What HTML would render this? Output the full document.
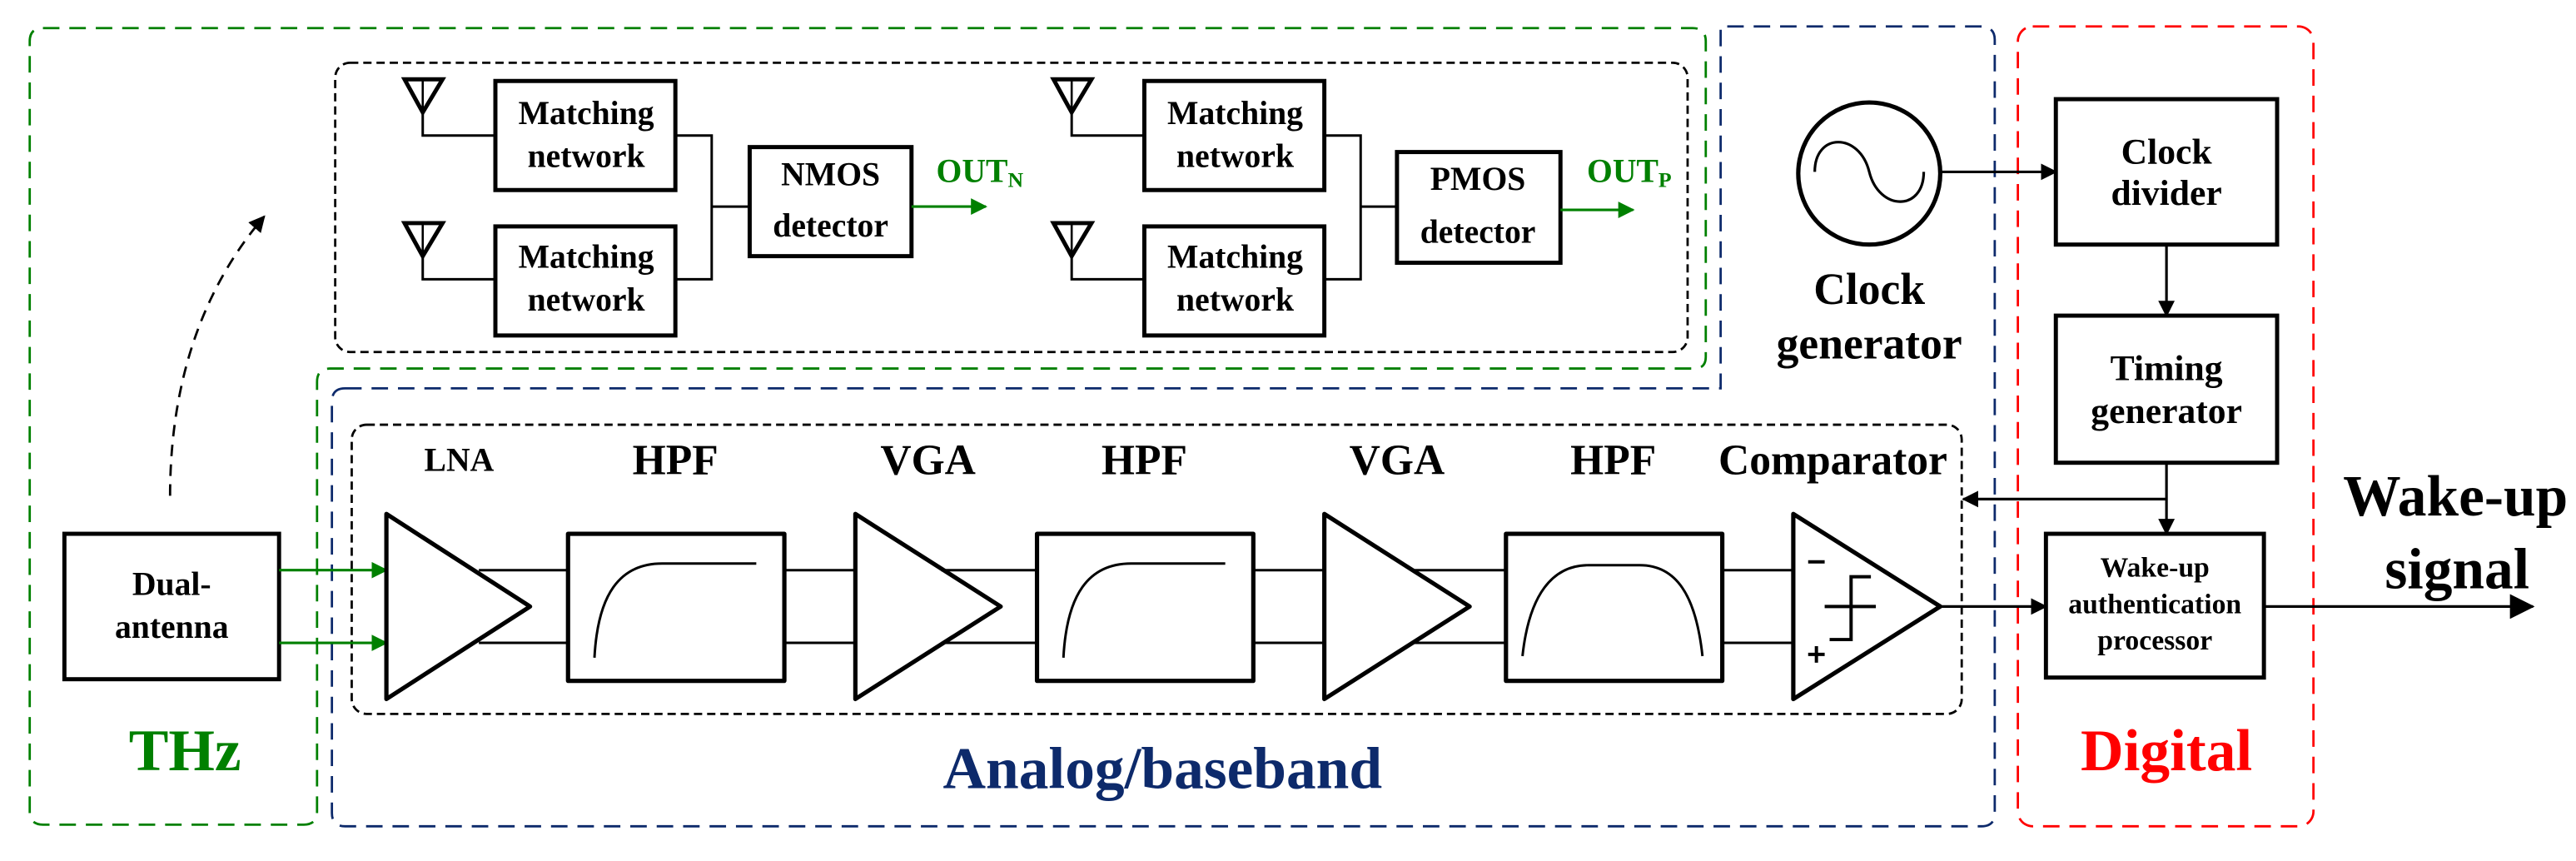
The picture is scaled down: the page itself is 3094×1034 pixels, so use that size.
<!DOCTYPE html>
<html><head><meta charset="utf-8"><style>
html,body{margin:0;padding:0;background:#fff;}
svg{display:block;}
text{font-family:"Liberation Serif",serif;font-weight:bold;}
</style></head><body>
<svg width="3094" height="1034" viewBox="0 0 1560 521" preserveAspectRatio="none" xmlns="http://www.w3.org/2000/svg">
<defs>
<marker id="ak" markerWidth="10" markerHeight="10" refX="9" refY="5" orient="auto" markerUnits="userSpaceOnUse"><path d="M0,0 L10,5 L0,10 Z" fill="#000"/></marker>
<marker id="ag" markerWidth="10" markerHeight="10" refX="9" refY="5" orient="auto" markerUnits="userSpaceOnUse"><path d="M0,0 L10,5 L0,10 Z" fill="#008000"/></marker>
<marker id="ab" markerWidth="15" markerHeight="15" refX="14" refY="7.5" orient="auto" markerUnits="userSpaceOnUse"><path d="M0,0 L15,7.5 L0,15 Z" fill="#000"/></marker>
</defs>
<path d="M26,17 L1025,17 Q1033,17 1033,25 L1033,216 Q1033,223 1026,223 L200,223 Q192,223 192,231 L192,491 Q192,499 184,499 L26,499 Q18,499 18,491 L18,25 Q18,17 26,17 Z" fill="none" stroke="#008000" stroke-width="1.4" stroke-dasharray="10,6"/>
<path d="M209,235 L1042,235 L1042,16 L1199,16 Q1208,16 1208,24 L1208,492 Q1208,500 1200,500 L209,500 Q201,500 201,492 L201,243 Q201,235 209,235 Z" fill="none" stroke="#0d2a6b" stroke-width="1.4" stroke-dasharray="10,6"/>
<rect x="1222" y="16" width="179" height="484" rx="9" fill="none" stroke="#ff0000" stroke-width="1.4" stroke-dasharray="10,6"/>
<rect x="203" y="38" width="819" height="175" rx="9" fill="none" stroke="#000" stroke-width="1.4" stroke-dasharray="5,3"/>
<rect x="213" y="257" width="975" height="175" rx="9" fill="none" stroke="#000" stroke-width="1.4" stroke-dasharray="5,3"/>

<path d="M103,300 C103,240 118,180 160,131" fill="none" stroke="#000" stroke-width="1.4" stroke-dasharray="7,5" marker-end="url(#ak)"/>

<g stroke="#000" fill="none">
<path d="M245,48 L268,48 L256,68 Z" stroke-width="2.5"/><line x1="256" y1="48" x2="256" y2="68" stroke-width="1.3"/>
<polyline points="256,68 256,82 299,82" stroke-width="1.5"/>
<path d="M245,135 L268,135 L256,155 Z" stroke-width="2.5"/><line x1="256" y1="135" x2="256" y2="155" stroke-width="1.3"/>
<polyline points="256,155 256,169 299,169" stroke-width="1.5"/>
<polyline points="409,82 431,82 431,169 409,169" stroke-width="1.5"/>
<line x1="431" y1="125" x2="453" y2="125" stroke-width="1.5"/>
<rect x="300" y="49" width="109" height="66" stroke-width="2.5"/>
<rect x="300" y="137" width="109" height="66" stroke-width="2.5"/>
<rect x="454" y="89" width="98" height="66" stroke-width="2.5"/>
<g transform="translate(393,0)">
<path d="M245,48 L268,48 L256,68 Z" stroke-width="2.5"/><line x1="256" y1="48" x2="256" y2="68" stroke-width="1.3"/>
<polyline points="256,68 256,82 299,82" stroke-width="1.5"/>
<path d="M245,135 L268,135 L256,155 Z" stroke-width="2.5"/><line x1="256" y1="135" x2="256" y2="155" stroke-width="1.3"/>
<polyline points="256,155 256,169 299,169" stroke-width="1.5"/>
<polyline points="409,82 431,82 431,169 409,169" stroke-width="1.5"/>
<line x1="431" y1="125" x2="453" y2="125" stroke-width="1.5"/>
<rect x="300" y="49" width="109" height="66" stroke-width="2.5"/>
<rect x="300" y="137" width="109" height="66" stroke-width="2.5"/>
</g>
<rect x="846" y="92" width="99" height="67" stroke-width="2.5"/>
</g>
<line x1="552" y1="125" x2="597" y2="125" stroke="#008000" stroke-width="1.6" marker-end="url(#ag)"/>
<line x1="945" y1="127" x2="989" y2="127" stroke="#008000" stroke-width="1.6" marker-end="url(#ag)"/>
<g font-size="20" text-anchor="middle">
<text x="355" y="75">Matching</text><text x="355" y="101">network</text>
<text x="355" y="162">Matching</text><text x="355" y="188">network</text>
<text x="748" y="75">Matching</text><text x="748" y="101">network</text>
<text x="748" y="162">Matching</text><text x="748" y="188">network</text>
<text x="503" y="112">NMOS</text><text x="503" y="143">detector</text>
<text x="895" y="115">PMOS</text><text x="895" y="147">detector</text>
</g>
<text x="567" y="110" font-size="20" fill="#008000">OUT<tspan font-size="13" dy="3">N</tspan></text>
<text x="961" y="110" font-size="20" fill="#008000">OUT<tspan font-size="13" dy="3">P</tspan></text>

<rect x="39" y="323" width="130" height="88" fill="none" stroke="#000" stroke-width="2.5"/>
<text x="104" y="360" font-size="20" text-anchor="middle">Dual-</text>
<text x="104" y="386" font-size="20" text-anchor="middle">antenna</text>
<line x1="169" y1="345" x2="234" y2="345" stroke="#008000" stroke-width="1.6" marker-end="url(#ag)"/>
<line x1="169" y1="389" x2="234" y2="389" stroke="#008000" stroke-width="1.6" marker-end="url(#ag)"/>

<g stroke="#000" stroke-width="1.5">
<line x1="290" y1="345" x2="343" y2="345"/><line x1="290" y1="389" x2="343" y2="389"/>
<line x1="475" y1="345" x2="518" y2="345"/><line x1="475" y1="389" x2="518" y2="389"/>
<line x1="570" y1="345" x2="627" y2="345"/><line x1="570" y1="389" x2="627" y2="389"/>
<line x1="760" y1="345" x2="802" y2="345"/><line x1="760" y1="389" x2="802" y2="389"/>
<line x1="855" y1="345" x2="911" y2="345"/><line x1="855" y1="389" x2="911" y2="389"/>
<line x1="1043" y1="345" x2="1086" y2="345"/><line x1="1043" y1="389" x2="1086" y2="389"/>
</g>
<g stroke="#000" stroke-width="2.6" fill="none" stroke-linejoin="round">
<path d="M234,311 L321,367 L234,423 Z"/>
<path d="M518,311 L606,367 L518,423 Z"/>
<path d="M802,311 L890,367 L802,423 Z"/>
<path d="M1086,311 L1175,367 L1086,423 Z"/>
<rect x="344" y="323" width="131" height="89"/>
<rect x="628" y="323" width="131" height="89"/>
<rect x="912" y="323" width="131" height="89"/>
</g>
<g stroke="#000" stroke-width="1.5" fill="none">
<path d="M360,398 C362,360 375,341 401,341 L458,341"/>
<path d="M644,398 C646,360 659,341 685,341 L742,341"/>
<path d="M922,397 C926,360 940,342 962,342 L993,342 C1015,342 1027,360 1031,397"/>
<line x1="1095" y1="340" x2="1105" y2="340" stroke-width="2"/>
<line x1="1095" y1="396" x2="1105" y2="396" stroke-width="2"/><line x1="1100" y1="391" x2="1100" y2="401" stroke-width="2"/>
<line x1="1105" y1="367" x2="1136" y2="367" stroke-width="2"/>
<polyline points="1108,387 1121,387 1121,349 1133,349" stroke-width="2"/>
</g>
<g font-size="26" text-anchor="middle">
<text x="278" y="285" font-size="20">LNA</text>
<text x="409" y="287">HPF</text>
<text x="562" y="287">VGA</text>
<text x="693" y="287">HPF</text>
<text x="846" y="287">VGA</text>
<text x="977" y="287">HPF</text>
<text x="1110" y="287">Comparator</text>
</g>
<text x="112" y="466" font-size="36" fill="#008000" text-anchor="middle">THz</text>
<text x="704" y="477" font-size="36" fill="#0d2a6b" text-anchor="middle">Analog/baseband</text>

<circle cx="1132" cy="105" r="43" fill="none" stroke="#000" stroke-width="2.6"/>
<path d="M1099,104 C1099,80 1126,80 1132,104 C1138,128 1165,128 1165,104" fill="none" stroke="#000" stroke-width="1.6"/>
<text x="1132" y="184" font-size="27" text-anchor="middle">Clock</text>
<text x="1132" y="217" font-size="27" text-anchor="middle">generator</text>

<g stroke="#000" stroke-width="2.5" fill="none">
<rect x="1245" y="60" width="134" height="88"/>
<rect x="1245" y="191" width="134" height="89"/>
<rect x="1239" y="323" width="132" height="87"/>
</g>
<g stroke="#000" stroke-width="1.6">
<line x1="1175" y1="104" x2="1245" y2="104" marker-end="url(#ak)"/>
<line x1="1312" y1="148" x2="1312" y2="191" marker-end="url(#ak)"/>
<line x1="1312" y1="280" x2="1312" y2="323" marker-end="url(#ak)"/>
<line x1="1312" y1="302" x2="1189" y2="302" marker-end="url(#ak)"/>
<line x1="1175" y1="367" x2="1239" y2="367" marker-end="url(#ak)"/>
<line x1="1371" y1="367" x2="1534" y2="367" marker-end="url(#ab)"/>
</g>
<g font-size="22" text-anchor="middle">
<text x="1312" y="99">Clock</text><text x="1312" y="124">divider</text>
<text x="1312" y="230">Timing</text><text x="1312" y="256">generator</text>
</g>
<g font-size="17" text-anchor="middle">
<text x="1305" y="349">Wake-up</text><text x="1305" y="371">authentication</text><text x="1305" y="393">processor</text>
</g>
<text x="1312" y="466" font-size="36" fill="#ff0000" text-anchor="middle">Digital</text>
<text x="1487" y="312" font-size="35" text-anchor="middle">Wake-up</text>
<text x="1488" y="356" font-size="35" text-anchor="middle">signal</text>
</svg>
</body></html>
